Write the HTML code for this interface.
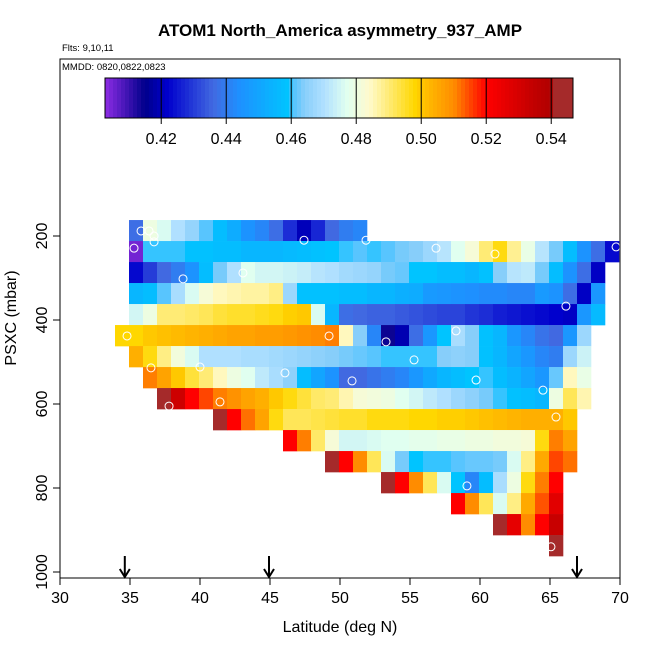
<!DOCTYPE html>
<html><head><meta charset="utf-8"><style>
body{margin:0;background:#fff}
svg{display:block;font-family:"Liberation Sans",sans-serif}
</style></head><body>
<svg id="chart" width="650" height="650" viewBox="0 0 650 650">
<text x="340" y="36" text-anchor="middle" font-size="17" font-weight="bold">ATOM1 North_America asymmetry_937_AMP</text>
<text x="62" y="51" font-size="9.5">Flts: 9,10,11</text>
<text x="62" y="70" font-size="9.5">MMDD: 0820,0822,0823</text>
<g id="cbar"></g>
<g id="cells"></g>
<g id="pts"></g>
<rect x="60" y="59" width="560" height="519" fill="none" stroke="#000" stroke-width="1"/>
<g id="axes"></g>
<text x="340" y="632" text-anchor="middle" font-size="16">Latitude (deg N)</text>
<text transform="translate(16,318) rotate(-90)" text-anchor="middle" font-size="16">PSXC (mbar)</text>
</svg>
<script>
const xTicks=[30,35,40,45,50,55,60,65,70];
const yTicks=[200,400,600,800,1000];
const cbTicks=[0.42,0.44,0.46,0.48,0.50,0.52,0.54];
const rowStartLat=[35,35,35,35,35,34,35,36,37,41,46,49,53,58,61,65];
const rowValues=[
[.437,.48,.476,.47,.466,.461,.457,.452,.445,.442,.437,.428,.42,.427,.436,.44,.442],
[.405,.46,.46,.46,.458,.458,.457,.457,.455,.455,.455,.456,.457,.458,.459,.46,.461,.46,.461,.463,.464,.467,.471,.477,.482,.49,.497,.488,.479,.471,.463,.457,.445,.437,.423],
[.423,.43,.436,.44,.445,.457,.463,.47,.477,.475,.475,.474,.473,.471,.47,.468,.467,.466,.463,.462,.459,.459,.457,.457,.455,.458,.464,.471,.472,.463,.457,.445,.437,.421],
[.455,.457,.461,.469,.476,.482,.485,.486,.487,.487,.489,.467,.458,.458,.458,.457,.457,.455,.455,.453,.452,.447,.446,.445,.444,.443,.443,.442,.442,.447,.445,.437,.421,.446],
[.475,.48,.49,.49,.491,.492,.494,.495,.495,.496,.497,.499,.5,.476,.455,.437,.436,.435,.435,.434,.433,.432,.431,.431,.429,.428,.426,.425,.424,.423,.422,.421,.446,.456],
[.498,.498,.5,.501,.502,.503,.504,.505,.506,.506,.507,.507,.508,.509,.51,.511,.485,.464,.442,.414,.419,.437,.446,.459,.469,.464,.458,.455,.446,.442,.438,.436,.446,.467],
[.504,.497,.489,.481,.476,.47,.47,.47,.469,.469,.468,.467,.466,.465,.464,.463,.462,.461,.46,.46,.46,.46,.464,.465,.464,.458,.455,.45,.446,.442,.44,.467,.474],
[.511,.506,.5,.494,.49,.485,.48,.477,.472,.469,.465,.457,.45,.445,.436,.436,.438,.44,.442,.446,.451,.455,.457,.459,.46,.457,.454,.45,.446,.462,.485,.479],
[.543,.532,.52,.515,.511,.509,.506,.504,.5,.497,.494,.491,.49,.486,.482,.481,.48,.477,.475,.472,.47,.467,.465,.463,.46,.458,.457,.455,.48,.492,.486],
[.543,.52,.512,.506,.497,.492,.492,.493,.494,.495,.495,.497,.497,.497,.498,.498,.499,.499,.5,.501,.502,.503,.504,.504,.504,.5],
[.52,.511,.491,.482,.475,.475,.476,.477,.477,.478,.478,.479,.479,.48,.48,.481,.481,.482,.497,.511,.506],
[.543,.52,.51,.492,.476,.463,.459,.46,.46,.461,.462,.462,.463,.476,.489,.505,.515,.512],
[.543,.52,.51,.492,.476,.459,.442,.457,.469,.48,.497,.511,.52],
[.52,.51,.492,.476,.489,.505,.514,.527],
[.543,.526,.51,.52,.533],
[.543]
];
const ptLat=[35.86,36.43,36.79,36.79,35.36,47.5,38.86,43.14,34.86,49.29,36.57,40.07,46.14,50.93,37.86,41.5,51.93,56.93,61.14,69.79,66.21,53.36,58.36,55.36,59.79,64.57,65.5,59.14,65.14];
const ptPres=[188,188,200,214,229,210,302,288,438,438,514,512,526,545,605,595,210,229,243,226,367,452,426,495,543,567,631,795,940];
const arrowLat=[34.7,45,67];

const NS='http://www.w3.org/2000/svg';
const X=l=>59+(l-30)*14;
const Y=p=>236+(p-200)*0.42;
const CB=v=>105+(v-0.4027)*(468/0.144);
const stops=[[0.403,'#8a2be2'],[0.415,'#00008b'],[0.422,'#0000cd'],[0.436,'#4169e1'],[0.444,'#1e90ff'],[0.459,'#00c4ff'],[0.4605,'#50c4ff'],[0.464,'#87cefa'],[0.47,'#b0e0ff'],[0.477,'#e0fff0'],[0.484,'#fffacd'],[0.498,'#ffd700'],[0.501,'#ffc000'],[0.51,'#ff8c00'],[0.515,'#ff4500'],[0.52,'#ff0000'],[0.535,'#c00000'],[0.5399,'#b00000'],[0.54,'#a52a2a'],[0.548,'#a52a2a']];
function hex(h){return[1,3,5].map(i=>parseInt(h.substr(i,2),16));}
function cmap(v){
 if(v<=stops[0][0])return stops[0][1];
 for(let i=1;i<stops.length;i++){if(v<=stops[i][0]){const a=hex(stops[i-1][1]),b=hex(stops[i][1]);const t=(v-stops[i-1][0])/(stops[i][0]-stops[i-1][0]);return 'rgb('+a.map((c,k)=>Math.round(c+(b[k]-c)*t)).join(',')+')';}}
 return stops[stops.length-1][1];
}
function mk(tag,attrs,parent){const e=document.createElementNS(NS,tag);for(const k in attrs)e.setAttribute(k,attrs[k]);parent.appendChild(e);return e;}

const cb=document.getElementById('cbar');
for(let i=0;i<117;i++){const v=0.4027+i*0.144/117;const r=mk('rect',{x:CB(v),y:78,width:468/117+0.5,height:40,fill:cmap(v+0.0006)},cb);

}
mk('rect',{x:105,y:78,width:468,height:40,fill:'none',stroke:'#000','stroke-width':1},cb);
cbTicks.forEach(t=>{const l=mk('line',{x1:CB(t),x2:CB(t),y1:78,y2:124,stroke:'#000','stroke-width':1},cb);


const tx=mk('text',{x:CB(t),y:144,'text-anchor':'middle','font-size':16},cb);tx.textContent=t.toFixed(2);

});

const cg=document.getElementById('cells');
rowValues.forEach((row,r)=>{const pTop=162+50*r;row.forEach((v,c)=>{const lat=rowStartLat[r]+c;
const e=mk('rect',{x:X(lat),y:Y(pTop),width:14.3,height:21.3,fill:cmap(v)},cg);

});});

const pg=document.getElementById('pts');
ptLat.forEach((l,i)=>{const c=mk('circle',{cx:X(l),cy:Y(ptPres[i]),r:4,fill:'none',stroke:'#fff','stroke-width':1},pg);

});

const ag=document.getElementById('axes');
xTicks.forEach(t=>{const x=X(t)+1;mk('line',{x1:x,x2:x,y1:578,y2:585,stroke:'#000'},ag);
const tx=mk('text',{x:x,y:603,'text-anchor':'middle','font-size':16},ag);tx.textContent=t;

});
yTicks.forEach(t=>{const y=Y(t);mk('line',{x1:53,x2:60,y1:y,y2:y,stroke:'#000'},ag);
const tx=mk('text',{transform:'translate(47,'+y+') rotate(-90)','text-anchor':'middle','font-size':16},ag);tx.textContent=t;

});
arrowLat.forEach(l=>{const x=X(l);const g=mk('g',{},ag);


mk('line',{x1:x,x2:x,y1:556,y2:577,stroke:'#000','stroke-width':2},g);
mk('path',{d:`M${x-5},${569}L${x},${577}L${x+5},${569}`,fill:'none',stroke:'#000','stroke-width':2},g);});
</script>
</body></html>
